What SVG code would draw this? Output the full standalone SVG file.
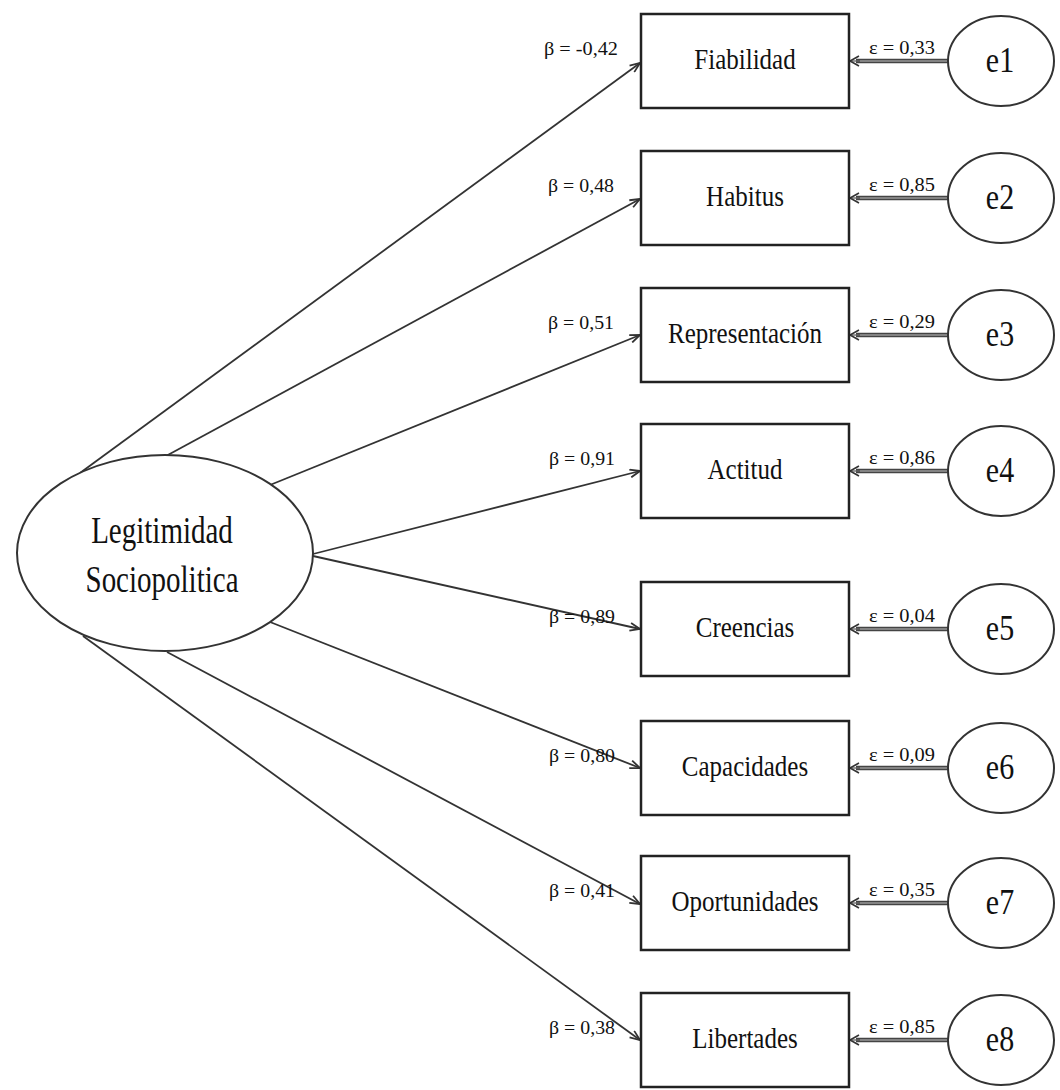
<svg xmlns="http://www.w3.org/2000/svg" width="1060" height="1090" viewBox="0 0 1060 1090">
<style>
.box{fill:#fff;stroke:#222;stroke-width:2.5}
.ell{fill:#fff;stroke:#333;stroke-width:2}
.ln{stroke:#333;stroke-width:1.8;fill:none}
.eo{stroke:#444;stroke-width:4.5;fill:none}
.ei{stroke:#999;stroke-width:1.5;fill:none}
.t{font-family:"Liberation Serif","Times New Roman",serif;fill:#111;text-anchor:middle}
.lab{font-size:25px}
.big{font-size:29px}
.el{font-size:30px}
.b{font-size:19px}
</style>
<defs>
<marker id="ah" markerWidth="12" markerHeight="10" refX="11" refY="5" orient="auto" markerUnits="userSpaceOnUse">
<path d="M1,1 L11,5 L1,9" fill="none" stroke="#333" stroke-width="1.8"/>
</marker>
<marker id="ah2" markerWidth="12" markerHeight="12" refX="10" refY="6" orient="auto" markerUnits="userSpaceOnUse">
<path d="M1,1 L10,6 L1,11" fill="none" stroke="#333" stroke-width="1.6"/>
</marker>
</defs>
<g id="connectors">
<line class="ln" x1="80" y1="473" x2="640" y2="63" marker-end="url(#ah)"/>
<line class="ln" x1="166" y1="456" x2="640" y2="199" marker-end="url(#ah)"/>
<line class="ln" x1="270" y1="485" x2="640" y2="335" marker-end="url(#ah)"/>
<line class="ln" x1="313" y1="554" x2="640" y2="471" marker-end="url(#ah)"/>
<line class="ln" x1="313" y1="556" x2="640" y2="629" marker-end="url(#ah)"/>
<line class="ln" x1="270" y1="622" x2="640" y2="768" marker-end="url(#ah)"/>
<line class="ln" x1="167" y1="652" x2="640" y2="904" marker-end="url(#ah)"/>
<line class="ln" x1="83" y1="636" x2="640" y2="1040" marker-end="url(#ah)"/>
<g>
<line class="eo" x1="948" y1="61" x2="856" y2="61"/><line class="ei" x1="948" y1="61" x2="856" y2="61"/><line x1="860" y1="61" x2="850" y2="61" stroke="#333" stroke-width="1" marker-end="url(#ah2)"/>
<line class="eo" x1="948" y1="198" x2="856" y2="198"/><line class="ei" x1="948" y1="198" x2="856" y2="198"/><line x1="860" y1="198" x2="850" y2="198" stroke="#333" stroke-width="1" marker-end="url(#ah2)"/>
<line class="eo" x1="948" y1="335" x2="856" y2="335"/><line class="ei" x1="948" y1="335" x2="856" y2="335"/><line x1="860" y1="335" x2="850" y2="335" stroke="#333" stroke-width="1" marker-end="url(#ah2)"/>
<line class="eo" x1="948" y1="471" x2="856" y2="471"/><line class="ei" x1="948" y1="471" x2="856" y2="471"/><line x1="860" y1="471" x2="850" y2="471" stroke="#333" stroke-width="1" marker-end="url(#ah2)"/>
<line class="eo" x1="948" y1="629" x2="856" y2="629"/><line class="ei" x1="948" y1="629" x2="856" y2="629"/><line x1="860" y1="629" x2="850" y2="629" stroke="#333" stroke-width="1" marker-end="url(#ah2)"/>
<line class="eo" x1="948" y1="768" x2="856" y2="768"/><line class="ei" x1="948" y1="768" x2="856" y2="768"/><line x1="860" y1="768" x2="850" y2="768" stroke="#333" stroke-width="1" marker-end="url(#ah2)"/>
<line class="eo" x1="948" y1="903" x2="856" y2="903"/><line class="ei" x1="948" y1="903" x2="856" y2="903"/><line x1="860" y1="903" x2="850" y2="903" stroke="#333" stroke-width="1" marker-end="url(#ah2)"/>
<line class="eo" x1="948" y1="1040" x2="856" y2="1040"/><line class="ei" x1="948" y1="1040" x2="856" y2="1040"/><line x1="860" y1="1040" x2="850" y2="1040" stroke="#333" stroke-width="1" marker-end="url(#ah2)"/>
</g>
<g class="t b">
<text x="581" y="55" textLength="74" lengthAdjust="spacingAndGlyphs">β = -0,42</text>
<text x="581" y="192" textLength="66" lengthAdjust="spacingAndGlyphs">β = 0,48</text>
<text x="581" y="329" textLength="66" lengthAdjust="spacingAndGlyphs">β = 0,51</text>
<text x="582" y="465" textLength="66" lengthAdjust="spacingAndGlyphs">β = 0,91</text>
<text x="582" y="623" textLength="66" lengthAdjust="spacingAndGlyphs">β = 0,89</text>
<text x="582" y="762" textLength="66" lengthAdjust="spacingAndGlyphs">β = 0,80</text>
<text x="582" y="897" textLength="66" lengthAdjust="spacingAndGlyphs">β = 0,41</text>
<text x="582" y="1034" textLength="66" lengthAdjust="spacingAndGlyphs">β = 0,38</text>
<text x="902" y="54" textLength="66" lengthAdjust="spacingAndGlyphs">ε = 0,33</text>
<text x="902" y="191" textLength="66" lengthAdjust="spacingAndGlyphs">ε = 0,85</text>
<text x="902" y="328" textLength="66" lengthAdjust="spacingAndGlyphs">ε = 0,29</text>
<text x="902" y="464" textLength="66" lengthAdjust="spacingAndGlyphs">ε = 0,86</text>
<text x="902" y="622" textLength="66" lengthAdjust="spacingAndGlyphs">ε = 0,04</text>
<text x="902" y="761" textLength="66" lengthAdjust="spacingAndGlyphs">ε = 0,09</text>
<text x="902" y="896" textLength="66" lengthAdjust="spacingAndGlyphs">ε = 0,35</text>
<text x="902" y="1033" textLength="66" lengthAdjust="spacingAndGlyphs">ε = 0,85</text>
</g>
</g>
<g id="latent">
<ellipse class="ell" cx="165" cy="553" rx="148" ry="98"/>
<text class="t big" transform="translate(162,543) scale(1,1.3)">Legitimidad</text>
<text class="t big" transform="translate(162,592) scale(1,1.3)">Sociopolitica</text>
</g>
<g id="n1"><rect class="box" x="641" y="14" width="208" height="94"/><text class="t lab" transform="translate(745,69) scale(1,1.15)">Fiabilidad</text></g>
<g id="n2"><rect class="box" x="641" y="151" width="208" height="94"/><text class="t lab" transform="translate(745,206) scale(1,1.15)">Habitus</text></g>
<g id="n3"><rect class="box" x="641" y="288" width="208" height="94"/><text class="t lab" transform="translate(745,343) scale(1,1.15)">Representación</text></g>
<g id="n4"><rect class="box" x="641" y="424" width="208" height="94"/><text class="t lab" transform="translate(745,479) scale(1,1.15)">Actitud</text></g>
<g id="n5"><rect class="box" x="641" y="582" width="208" height="94"/><text class="t lab" transform="translate(745,637) scale(1,1.15)">Creencias</text></g>
<g id="n6"><rect class="box" x="641" y="721" width="208" height="94"/><text class="t lab" transform="translate(745,776) scale(1,1.15)">Capacidades</text></g>
<g id="n7"><rect class="box" x="641" y="856" width="208" height="94"/><text class="t lab" transform="translate(745,911) scale(1,1.15)">Oportunidades</text></g>
<g id="n8"><rect class="box" x="641" y="993" width="208" height="94"/><text class="t lab" transform="translate(745,1048) scale(1,1.15)">Libertades</text></g>
<g id="e1"><ellipse class="ell" cx="1001" cy="61" rx="53" ry="45"/><text class="t el" transform="translate(1000,72) scale(1,1.2)">e1</text></g>
<g id="e2"><ellipse class="ell" cx="1001" cy="198" rx="53" ry="45"/><text class="t el" transform="translate(1000,209) scale(1,1.2)">e2</text></g>
<g id="e3"><ellipse class="ell" cx="1001" cy="335" rx="53" ry="45"/><text class="t el" transform="translate(1000,346) scale(1,1.2)">e3</text></g>
<g id="e4"><ellipse class="ell" cx="1001" cy="471" rx="53" ry="45"/><text class="t el" transform="translate(1000,482) scale(1,1.2)">e4</text></g>
<g id="e5"><ellipse class="ell" cx="1001" cy="629" rx="53" ry="45"/><text class="t el" transform="translate(1000,640) scale(1,1.2)">e5</text></g>
<g id="e6"><ellipse class="ell" cx="1001" cy="768" rx="53" ry="45"/><text class="t el" transform="translate(1000,779) scale(1,1.2)">e6</text></g>
<g id="e7"><ellipse class="ell" cx="1001" cy="903" rx="53" ry="45"/><text class="t el" transform="translate(1000,914) scale(1,1.2)">e7</text></g>
<g id="e8"><ellipse class="ell" cx="1001" cy="1040" rx="53" ry="45"/><text class="t el" transform="translate(1000,1051) scale(1,1.2)">e8</text></g>
</svg>
